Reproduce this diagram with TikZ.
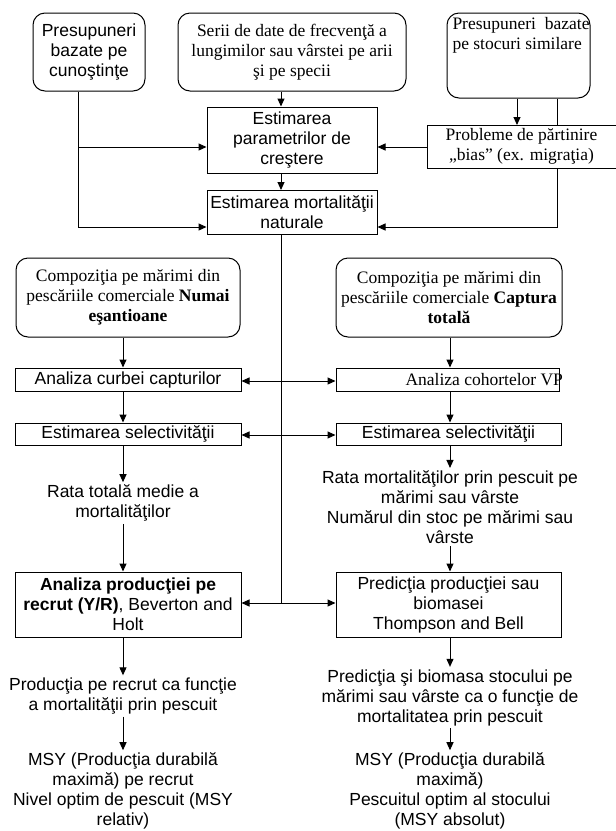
\documentclass[tikz,border=0pt]{standalone}
\usepackage{fontspec}
\setmainfont{Liberation Serif}
\setsansfont{Liberation Sans}
\usetikzlibrary{arrows.meta}
\newcommand\fsz{\fontsize{17.5}{20}\selectfont}
\begin{document}
\begin{tikzpicture}[x=1pt,y=-1pt,
  line width=1pt,
  arr/.style={-{Triangle[length=8pt,width=7pt]}},
  darr/.style={{Triangle[length=8pt,width=7pt]}-{Triangle[length=8pt,width=7pt]}},
  rbox/.style={draw, rectangle, rounded corners=12pt, inner sep=0pt, align=center},
  sbox/.style={draw, rectangle, inner sep=0pt, align=center, fill=white},
  sansf/.style={font=\sffamily\fsz},
  seriff/.style={font=\rmfamily\fsz},
  txt/.style={inner sep=2pt, align=center, font=\sffamily\fsz}]
\useasboundingbox (0,0) rectangle (616,831);
\fill[white] (0,0) rectangle (616,831);

% top row
\node[rbox, sansf, minimum width=112, minimum height=78] (A) at (89,52) {Presupuneri\\bazate pe\\cunoştinţe};
\node[rbox, seriff, minimum width=228, minimum height=78] (B) at (292,52) {Serii de date de frecvenţă a\\lungimilor sau vârstei pe arii\\şi pe specii};
\node[rbox, minimum width=143, minimum height=85] (C) at (518.5,55.5) {};
\node[anchor=north west, inner sep=0pt, align=left, font=\rmfamily\fsz] (Ct) at (452,17) {Presupuneri\ \ bazate\\pe stocuri similare};

\node[sbox, sansf, minimum width=170, minimum height=66] (Param) at (292,140) {Estimarea\\parametrilor de\\creştere};
\node[sbox, sansf, minimum width=170, minimum height=44] (Mort) at (292,212.5) {Estimarea mortalităţii\\naturale};

% left column
\node[rbox, seriff, minimum width=224, minimum height=79] (CompL) at (128,297.5) {Compoziţia pe mărimi din\\pescăriile comerciale \textbf{Numai}\\\textbf{eşantioane}};
\node[sbox, sansf, minimum width=226, minimum height=23] (CurbL) at (128,379.5) {Analiza curbei capturilor};
\node[sbox, sansf, minimum width=226, minimum height=22] (SelL) at (128,434) {Estimarea selectivităţii};
\node[txt] (RataL) at (123,503) {Rata totală medie a\\mortalităţilor};
\node[sbox, sansf, minimum width=226, minimum height=65] (ProdL) at (128,604.5) {\textbf{Analiza producţiei pe}\\\textbf{recrut (Y/R)}, Beverton and\\Holt};
\node[txt] (ProdRecL) at (123,696) {Producţia pe recrut ca funcţie\\a mortalităţii prin pescuit};
\node[txt] (MSYL) at (123,791) {MSY (Producţia durabilă\\maximă) pe recrut\\Nivel optim de pescuit (MSY\\relativ)};

% right column
\node[rbox, seriff, minimum width=226, minimum height=79] (CompR) at (449,297.5) {Compoziţia pe mărimi din\\pescăriile comerciale \textbf{Captura}\\\textbf{totală}};
\node[sbox, minimum width=223, minimum height=23] (CohR) at (447.5,379.5) {};
\node[anchor=west, inner sep=0pt, font=\rmfamily\fsz] (CohRt) at (405,380) {Analiza cohortelor VP};
\node[sbox, sansf, minimum width=225, minimum height=22] (SelR) at (448.5,434) {Estimarea selectivităţii};
\node[txt] (RataR) at (450,507) {Rata mortalităţilor prin pescuit pe\\mărimi sau vârste\\Numărul din stoc pe mărimi sau\\vârste};
\node[sbox, sansf, minimum width=225, minimum height=65] (PredR) at (448.5,604.5) {Predicţia producţiei sau\\biomasei\\Thompson and Bell};
\node[txt] (PredBioR) at (450,697.5) {Predicţia şi biomasa stocului pe\\mărimi sau vârste ca o funcţie de\\mortalitatea prin pescuit};
\node[txt] (MSYR) at (450,791) {MSY (Producţia durabilă\\maximă)\\Pescuitul optim al stocului\\(MSY absolut)};

% helper coordinates
\coordinate (xa) at (78,147);
\coordinate (ya) at (78,227);
\coordinate (xm) at (281,0);
\coordinate (xc1) at (517,0);
\coordinate (xc2) at (557,227);
\coordinate (yp) at (0,147);
\coordinate (hub) at (281,603);
\coordinate (xl) at (123,0);
\coordinate (xr) at (450,0);
\coordinate (y1) at (0,381);
\coordinate (y2) at (0,435);

% top connectors
\draw[arr] (A.south -| xa) |- (Mort.west |- ya);
\draw[arr] (xa) -- (Param.west |- xa);
\draw[arr] (B.south -| xm) -- (Param.north -| xm);
\draw[arr] (Param.south -| xm) -- (Mort.north -| xm);
\draw[arr] (C.south -| xc1) -- (427,125 -| xc1);
\draw (C.south -| xc2) -- (0,125 -| xc2);
\draw[arr] (0,168 -| xc2) |- (Mort.east |- xc2);
\draw[arr] (427,147) -- (Param.east |- yp);

% problem box drawn above lines
\path[fill=white] (427,125) rectangle (616,168);
\draw (616,125) -- (427,125) -- (427,168) -- (616,168);
\node[inner sep=0pt, align=center, font=\rmfamily\fsz] (Prob) at (521.5,146.5) {Probleme de părtinire\\„bias” (ex. migraţia)};

% central spine
\draw (Mort.south -| xm) -- (hub);
\draw[arr] (hub) -- (ProdL.east |- hub);
\draw[arr] (hub) -- (PredR.west |- hub);
\draw[darr] (CurbL.east |- y1) -- (CohR.west |- y1);
\draw[darr] (SelL.east |- y2) -- (SelR.west |- y2);

% left column arrows
\draw[arr] (CompL.south -| xl) -- (CurbL.north -| xl);
\draw[arr] (CurbL.south -| xl) -- (SelL.north -| xl);
\draw[arr] (SelL.south -| xl) -- (RataL.north -| xl);
\draw[arr] (RataL.south -| xl) -- (ProdL.north -| xl);
\draw[arr] (ProdL.south -| xl) -- (ProdRecL.north -| xl);
\draw[arr] (ProdRecL.south -| xl) -- (MSYL.north -| xl);

% right column arrows
\draw[arr] (CompR.south -| xr) -- (CohR.north -| xr);
\draw[arr] (CohR.south -| xr) -- (SelR.north -| xr);
\draw[arr] (SelR.south -| xr) -- (RataR.north -| xr);
\draw[arr] (RataR.south -| xr) -- (PredR.north -| xr);
\draw[arr] (PredR.south -| xr) -- (PredBioR.north -| xr);
\draw[arr] (PredBioR.south -| xr) -- (MSYR.north -| xr);
\end{tikzpicture}
\end{document}
